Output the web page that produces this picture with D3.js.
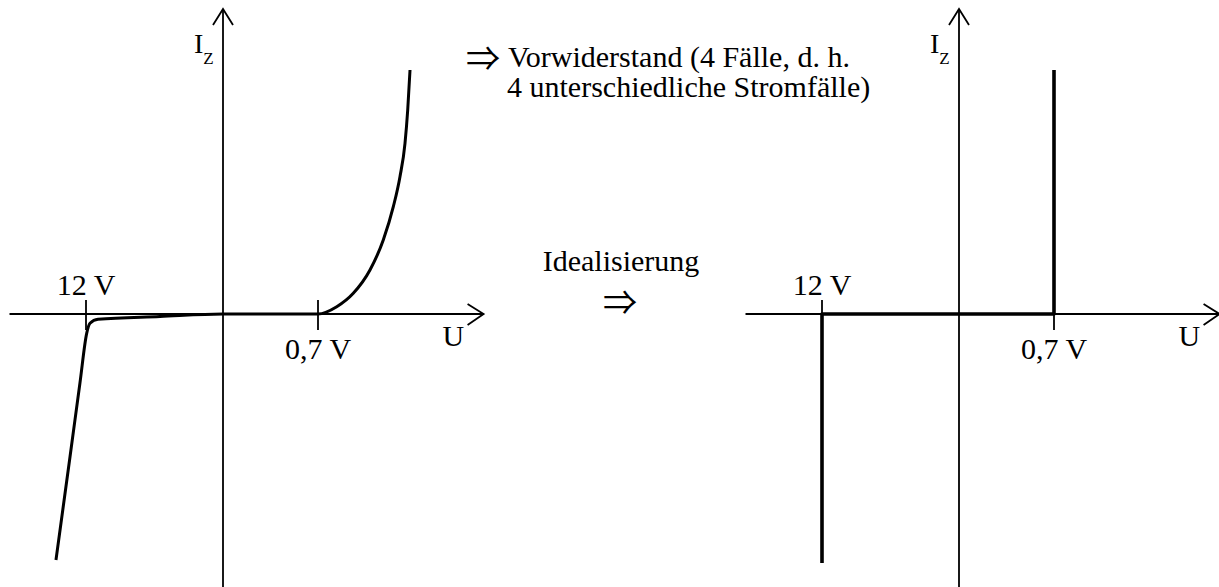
<!DOCTYPE html>
<html>
<head>
<meta charset="utf-8">
<script src="https://cdn.jsdelivr.net/npm/d3@7"></script>
<style>
  body { margin: 0; background: #fff; }
  text { font-family: "Liberation Serif", "Times New Roman", serif; fill: #000; }
</style>
</head>
<body>
<div id="chart"></div>
<script>
const width = 1219, height = 587;

// ticks on the U axis (volts) and their labels
const tickValues = [-12, 0.7];
const tickLabels = ["12 V", "0,7 V"];

const realU = [-14.63, -13.40, -12.53, -11.94, -11.65, -10.95, -5.52, 0, 0.7, 0.838, 0.960, 1.083, 1.181, 1.255, 1.304, 1.341, 1.361, 1.378];
const realI = [-24.6, -14.27, -6.9, -1.93, -0.93, -0.53, -0.25, 0, 0, 0.73, 2.07, 4.4, 7.4, 10.73, 13.73, 17.07, 20.4, 24.4];

// idealised characteristic
const idealU = [-12, -12, 0.7, 0.7];
const idealI = [-24.9, 0, 0, 24.4];

// extent of the drawn axes
const axisU = [-18.7, 1.92];
const axisI = [-27.3, 30.5];

const noteLines = ["Vorwiderstand (4 Fälle, d. h.", "4 unterschiedliche Stromfälle)"];
const middleLabel = "Idealisierung";

const svg = d3.select("#chart")
  .append("svg")
  .attr("width", width)
  .attr("height", height);

// sketch is not to scale: piecewise scale through the two marked voltages
const x = d3.scaleLinear()
  .domain([-12, 0, 0.7])
  .range([86, 223, 318]);

const y = d3.scaleLinear()
  .domain(axisI)
  .range([height, 9]);

function drawPanel(g, U, I, lineWidth, curve) {
  const x0 = x(0), y0 = y(0);
  const xEnd = x(axisU[1]), yTop = y(axisI[1]);

  // axes
  g.append("line")
    .attr("x1", x(axisU[0])).attr("x2", xEnd)
    .attr("y1", y0).attr("y2", y0)
    .attr("stroke", "#000").attr("stroke-width", 1.8);
  g.append("line")
    .attr("x1", x0).attr("x2", x0)
    .attr("y1", y(axisI[0])).attr("y2", yTop)
    .attr("stroke", "#000").attr("stroke-width", 1.8);

  // open arrow heads
  g.append("path")
    .attr("d", `M${xEnd - 16},${y0 - 10}L${xEnd},${y0}L${xEnd - 16},${y0 + 11}`)
    .attr("fill", "none").attr("stroke", "#000").attr("stroke-width", 1.8);
  g.append("path")
    .attr("d", `M${x0 - 10},${yTop + 16}L${x0},${yTop}L${x0 + 10},${yTop + 16}`)
    .attr("fill", "none").attr("stroke", "#000").attr("stroke-width", 1.8);

  // ticks
  g.selectAll(".tick")
    .data(tickValues)
    .join("line")
    .attr("class", "tick")
    .attr("x1", d => x(d)).attr("x2", d => x(d))
    .attr("y1", y0 - 14).attr("y2", y0 + 16)
    .attr("stroke", "#000").attr("stroke-width", 1.8);

  g.selectAll(".tick-label")
    .data(tickValues)
    .join("text")
    .attr("class", "tick-label")
    .attr("x", d => x(d))
    .attr("y", d => d < 0 ? y0 - 19 : y0 + 45)
    .style("text-anchor", "middle")
    .style("font-size", "30px")
    .text((d, i) => tickLabels[i]);

  // axis titles
  const iz = g.append("text")
    .attr("x", x0 - 29)
    .attr("y", yTop + 44)
    .style("font-size", "28px")
    .text("I");
  iz.append("tspan")
    .attr("dy", 11)
    .style("font-size", "17px")
    .text("Z");

  g.append("text")
    .attr("x", xEnd - 41)
    .attr("y", y0 + 32)
    .style("font-size", "30px")
    .text("U");

  // characteristic
  const line = d3.line()
    .x(d => x(d[0]))
    .y(d => y(d[1]))
    .curve(curve);

  g.append("path")
    .datum(d3.zip(U, I))
    .attr("d", line)
    .attr("fill", "none")
    .attr("stroke", "#000")
    .attr("stroke-width", lineWidth)
    .attr("stroke-linejoin", "round");
}

drawPanel(svg.append("g"), realU, realI, 3, d3.curveMonotoneX);
drawPanel(svg.append("g").attr("transform", "translate(736,0)"), idealU, idealI, 3.6, d3.curveLinear);

// notes in the middle
svg.append("text")
  .attr("x", 466)
  .attr("y", 71)
  .style("font-family", "'Noto Sans CJK JP'")
  .style("font-size", "34px")
  .text("⇒");

svg.selectAll(".note")
  .data(noteLines)
  .join("text")
  .attr("class", "note")
  .attr("x", (d, i) => i === 0 ? 508 : 507)
  .attr("y", (d, i) => 67 + i * 30)
  .style("font-size", "30px")
  .text(d => d);

svg.append("text")
  .attr("x", 621)
  .attr("y", 271)
  .style("text-anchor", "middle")
  .style("font-size", "30px")
  .text(middleLabel);

svg.append("text")
  .attr("x", 620)
  .attr("y", 315)
  .style("text-anchor", "middle")
  .style("font-family", "'Noto Sans CJK JP'")
  .style("font-size", "34px")
  .text("⇒");
</script>
</body>
</html>
